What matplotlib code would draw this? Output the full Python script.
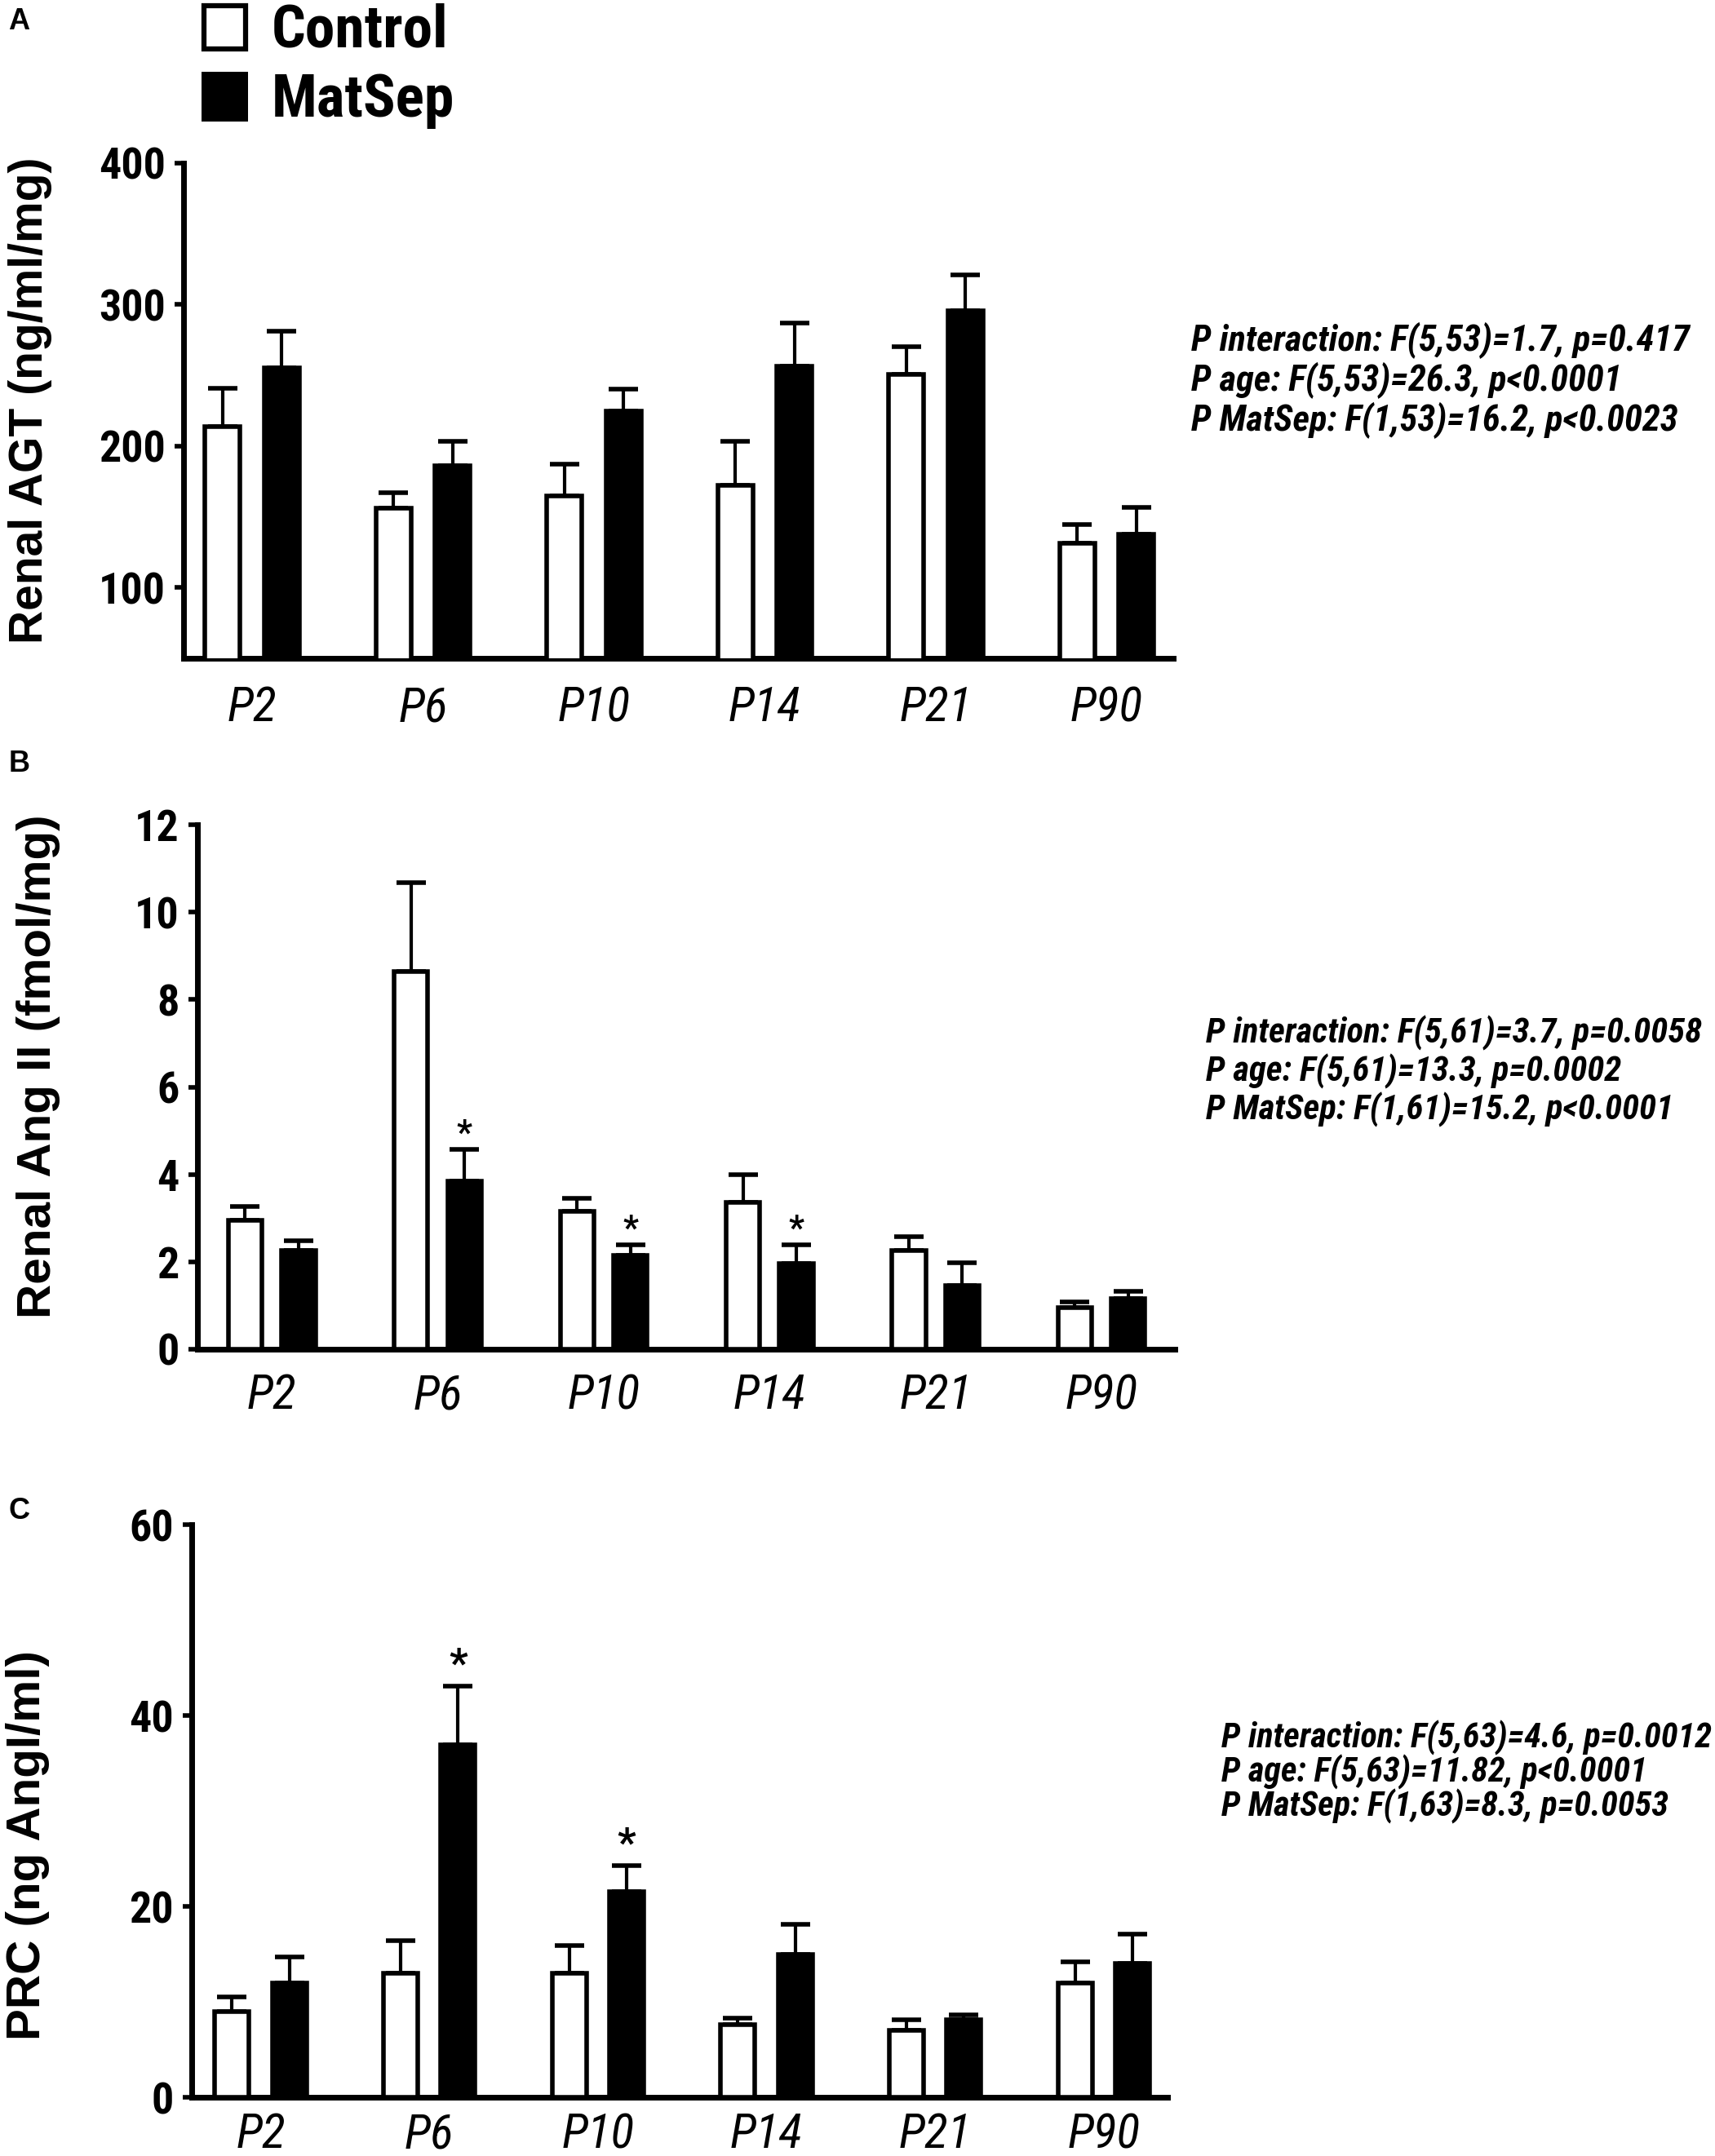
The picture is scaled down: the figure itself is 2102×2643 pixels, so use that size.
import numpy as np
import matplotlib
matplotlib.use('Agg')
import matplotlib.pyplot as plt
import matplotlib.font_manager as fm

groups = ['P2', 'P6', 'P10', 'P14', 'P21', 'P90']

agt_ctrl = [214, 156, 164.5, 172.5, 250.5, 131.5]
agt_ctrl_sem = [27, 11, 22.5, 31, 20, 13]
agt_ms = [255, 186, 225, 256.5, 295.5, 137.5]
agt_ms_sem = [26, 17.5, 15.5, 30.5, 25.5, 19]

ang_ctrl = [2.95, 8.65, 3.15, 3.35, 2.25, 0.95]
ang_ctrl_sem = [0.32, 2.03, 0.31, 0.65, 0.32, 0.13]
ang_ms = [2.25, 3.85, 2.15, 1.96, 1.45, 1.16]
ang_ms_sem = [0.23, 0.72, 0.23, 0.42, 0.53, 0.16]

prc_ctrl = [9.0, 13.0, 13.0, 7.6, 7.0, 12.0]
prc_ctrl_sem = [1.5, 3.4, 2.9, 0.7, 1.1, 2.2]
prc_ms = [12.0, 36.9, 21.5, 15.0, 8.1, 14.0]
prc_ms_sem = [2.7, 6.2, 2.8, 3.1, 0.5, 3.1]

stars_B = [1, 2, 3]
stars_C = [1, 2]

stats_A = ["P interaction: F(5,53)=1.7, p=0.417",
           "P age: F(5,53)=26.3, p<0.0001",
           "P MatSep: F(1,53)=16.2, p<0.0023"]
stats_B = ["P interaction: F(5,61)=3.7, p=0.0058",
           "P age: F(5,61)=13.3, p=0.0002",
           "P MatSep: F(1,61)=15.2, p<0.0001"]
stats_C = ["P interaction: F(5,63)=4.6, p=0.0012",
           "P age: F(5,63)=11.82, p<0.0001",
           "P MatSep: F(1,63)=8.3, p=0.0053"]

# ---- font selection: prefer a condensed sans ----
avail = {f.name for f in fm.fontManager.ttflist}
NSTRETCH = 'normal'
if 'Liberation Sans Narrow' in avail:
    NARROW = ['Liberation Sans Narrow', 'Liberation Sans', 'DejaVu Sans']
elif 'Roboto Condensed' in avail:
    NARROW = ['Roboto Condensed', 'Liberation Sans', 'DejaVu Sans']
else:
    NARROW = ['Liberation Sans', 'DejaVu Sans']
WIDE = ['Liberation Sans', 'DejaVu Sans']
NF = dict(family=NARROW, fontstretch=NSTRETCH)

W, H = 2102, 2643
fig = plt.figure(figsize=(W / 100, H / 100), dpi=100)
fig.patch.set_facecolor('white')
renderer = fig.canvas.get_renderer()


def px_axes(l, r, t, b):
    return fig.add_axes([l / W, 1 - b / H, (r - l) / W, (b - t) / H])


def ftext(x, y, s, **kw):
    return fig.text(x / W, 1 - y / H, s, **kw)


def fit_size(s, target_w, **kw):
    t = fig.text(0, 0, s, fontsize=40, **kw)
    w = t.get_window_extent(renderer).width
    t.remove()
    return 40 * target_w / w


YT_FS = fit_size('400', 82, fontweight='bold', **NF)
XT_FS = fit_size('P10', 89, fontstyle='italic', **NF)
LG_FS = fit_size('Control', 216, fontweight='bold', **NF)
ST_FS_A = fit_size(stats_A[0], 610, fontweight='bold', fontstyle='italic', **NF)
ST_FS_B = fit_size(stats_B[0], 608, fontweight='bold', fontstyle='italic', **NF)
ST_FS_C = fit_size(stats_C[0], 600, fontweight='bold', fontstyle='italic', **NF)


def panel(ax, ctrl, ce, ms, me, ylim, yticks, xlim, w, off, xdist, stars, star_off, star_fs):
    x = np.arange(len(groups))
    ax.bar(x - off, ctrl, w, color='white', edgecolor='black', linewidth=4, zorder=3)
    ax.bar(x + off, ms, w, color='black', edgecolor='black', linewidth=4, zorder=3)
    z = np.zeros(len(groups))
    ax.errorbar(x - off, ctrl, yerr=[z, ce], fmt='none', ecolor='black',
                elinewidth=3, capsize=13, capthick=4, zorder=2)
    ax.errorbar(x + off, ms, yerr=[z, me], fmt='none', ecolor='black',
                elinewidth=3, capsize=13, capthick=4, zorder=2)
    for i in stars:
        ax.annotate('*', xy=(x[i] + off, ms[i] + me[i]), xytext=(0, star_off),
                    textcoords='offset points', ha='center', va='center',
                    fontsize=star_fs, fontweight='bold', **NF)
    ax.set_xlim(*xlim)
    ax.set_ylim(*ylim)
    ax.set_yticks(yticks)
    ax.set_yticklabels([str(t) for t in yticks], fontweight='bold', fontsize=YT_FS, **NF)
    ax.set_xticks(x)
    ax.set_xticklabels(groups, fontstyle='italic', fontsize=XT_FS, va='center', **NF)
    ax.tick_params(axis='x', length=0, pad=xdist * 0.72)
    ax.tick_params(axis='y', direction='out', length=8, width=4, pad=8)
    for s in ['top', 'right']:
        ax.spines[s].set_visible(False)
    for s in ['left', 'bottom']:
        ax.spines[s].set_linewidth(5)
    ax.patch.set_alpha(0)


axA = px_axes(225, 1438, 200, 807)
panel(axA, agt_ctrl, agt_ctrl_sem, agt_ms, agt_ms_sem, (50, 400), [100, 200, 300, 400],
      (-0.402, 5.39), 0.205, 0.173, 61, [], 20, 40)

axB = px_axes(242, 1440, 1011, 1654)
panel(axB, ang_ctrl, ang_ctrl_sem, ang_ms, ang_ms_sem, (0, 12), [0, 2, 4, 6, 8, 10, 12],
      (-0.448, 5.442), 0.203, 0.161, 57, stars_B, 14, 30)

axC = px_axes(235, 1431, 1869, 2571)
panel(axC, prc_ctrl, prc_ctrl_sem, prc_ms, prc_ms_sem, (0, 60), [0, 20, 40, 60],
      (-0.409, 5.378), 0.204, 0.170, 46, stars_C, 18, 36)

# y labels
ftext(37, 491, 'Renal AGT (ng/ml/mg)', rotation=90, ha='center', va='center',
      family=WIDE, fontweight='bold', fontsize=41)
ftext(47, 1307, 'Renal Ang II (fmol/mg)', rotation=90, ha='center', va='center',
      family=WIDE, fontweight='bold', fontsize=42)
ftext(34, 2262, 'PRC (ng AngI/ml)', rotation=90, ha='center', va='center',
      family=WIDE, fontweight='bold', fontsize=42)

# panel letters
ftext(10, 26, 'A', ha='left', va='center', family=WIDE, fontweight='bold', fontsize=26)
ftext(11, 936, 'B', ha='left', va='center', family=WIDE, fontweight='bold', fontsize=26)
ftext(11, 1852, 'C', ha='left', va='center', family=WIDE, fontweight='bold', fontsize=26)

# legend
lax = fig.add_axes([0, 0, 1, 1])
lax.set_xlim(0, W)
lax.set_ylim(H, 0)
lax.axis('off')
lax.add_patch(plt.Rectangle((250, 7), 51, 53, facecolor='white', edgecolor='black', linewidth=4.5))
lax.add_patch(plt.Rectangle((247, 88), 57, 61, facecolor='black', edgecolor='black', linewidth=0))
lax.text(333, 38, 'Control', ha='left', va='center', fontweight='bold', fontsize=LG_FS, **NF)
lax.text(333, 124, 'MatSep', ha='left', va='center', fontweight='bold', fontsize=LG_FS, **NF)

# statistics
for lines, x0, ys, fs in [(stats_A, 1460, [417, 466, 515], ST_FS_A),
                          (stats_B, 1478, [1266, 1313, 1360], ST_FS_B),
                          (stats_C, 1497, [2130, 2172, 2214], ST_FS_C)]:
    for s, y in zip(lines, ys):
        ftext(x0, y, s, ha='left', va='center', fontweight='bold',
              fontstyle='italic', fontsize=fs, **NF)

fig.savefig('out.png', dpi=100, facecolor='white')
